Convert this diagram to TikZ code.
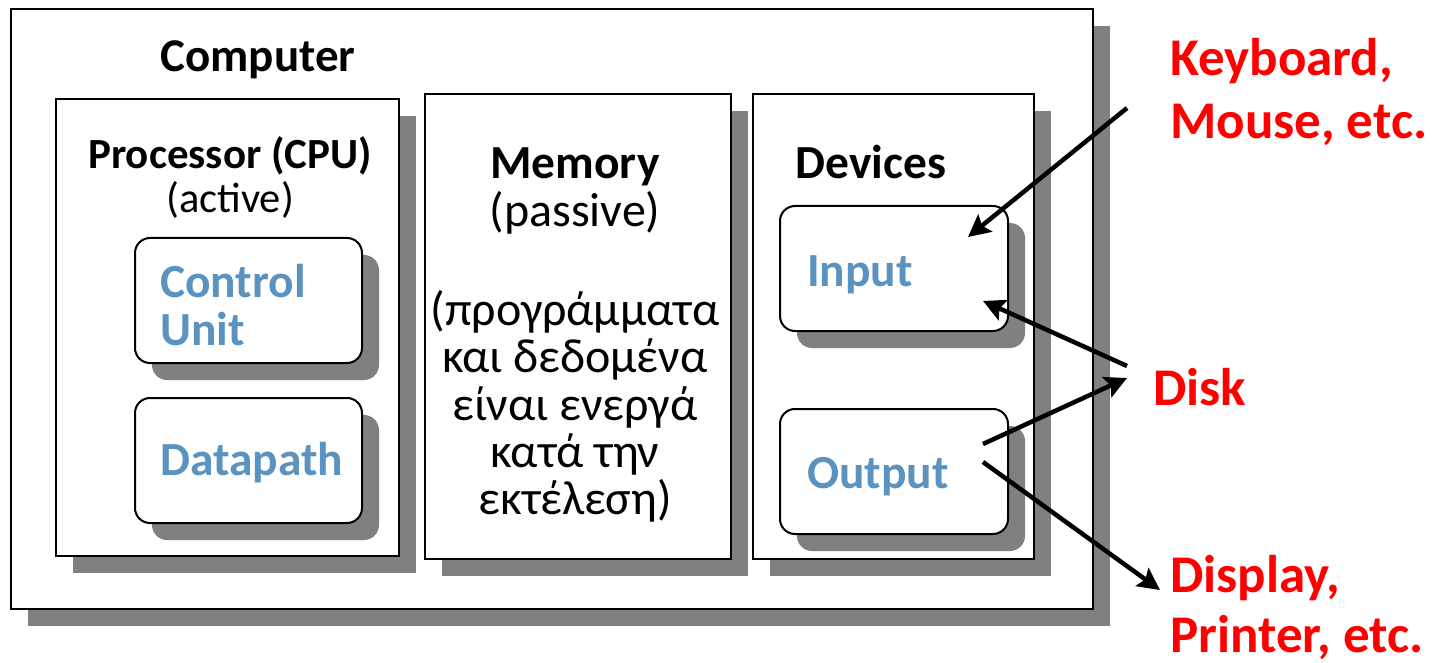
\documentclass[tikz,border=0pt]{standalone}
\usepackage{fontspec}
\setmainfont{Carlito}
\usetikzlibrary{shadows,arrows.meta}
\definecolor{cblue}{HTML}{5A92C0}
\definecolor{cred}{HTML}{FF0000}
\definecolor{shade}{HTML}{808080}
\tikzset{
  sq/.style={draw=black, line width=2pt, fill=white, anchor=north west, inner sep=0pt,
    drop shadow={shadow xshift=17pt, shadow yshift=-17pt, fill=shade, opacity=1}},
  rnd/.style={sq, rounded corners=15pt},
  hd/.style={inner sep=0pt, anchor=base, font=\fontsize{47.5}{57}\selectfont\bfseries},
  body/.style={inner sep=0pt, anchor=base, font=\fontsize{48}{57}\selectfont},
  bluetxt/.style={inner sep=0pt, anchor=base west, text=cblue, font=\fontsize{47.5}{57}\selectfont\bfseries},
  redtxt/.style={inner sep=0pt, anchor=base west, text=cred, font=\fontsize{53}{64}\selectfont\bfseries},
  arr/.style={line width=4.5pt, -{Stealth[length=22pt,width=22pt,inset=4pt]}}
}
\begin{document}
\begin{tikzpicture}[x=1pt,y=-1pt]
\useasboundingbox (0,0) rectangle (1435,663);
% outer
\node[sq, minimum width=1082pt, minimum height=600pt] (comp) at (10,8) {};
\node[hd, font=\fontsize{47}{57}\selectfont\bfseries] (comptxt) at (258,72) {Computer};
% processor
\node[sq, minimum width=343pt, minimum height=457pt] (proc) at (55,98) {};
\node[hd, font=\fontsize{43}{50}\selectfont\bfseries] (proctxt) at (230,169) {Processor (CPU)};
\node[body, font=\fontsize{42.5}{50}\selectfont] (acttxt) at (230,213) {(active)};
\node[rnd, minimum width=227pt, minimum height=125pt] (cu) at (134,237) {};
\node[bluetxt] (cutxt) at (160,297) {Control};
\node[bluetxt] (cutxtb) at (160,345) {Unit};
\node[rnd, minimum width=227pt, minimum height=125pt] (dp) at (134,397) {};
\node[bluetxt] (dptxt) at (160,475) {Datapath};
% memory
\node[sq, minimum width=306pt, minimum height=465pt] (mem) at (424,93) {};
\node[hd] (memtxt) at (575,179) {Memory};
\node[body] (pastxt) at (575,227) {(passive)};
\node[body] (g1) at (575,325) {(προγράμματα};
\node[body] (g2) at (575,372) {και δεδομένα};
\node[body] (g3) at (575,420) {είναι ενεργά};
\node[body] (g4) at (575,467) {κατά την};
\node[body] (g5) at (575,514) {εκτέλεση)};
% devices
\node[sq, minimum width=281pt, minimum height=465pt] (dev) at (752,93) {};
\node[hd] (devtxt) at (871,179) {Devices};
\node[rnd, minimum width=228pt, minimum height=125pt] (inp) at (779,205) {};
\node[bluetxt] (inptxt) at (807,286) {Input};
\node[rnd, minimum width=228pt, minimum height=125pt] (outp) at (779,408) {};
\node[bluetxt] (outtxt) at (807,488) {Output};
% red labels
\node[redtxt] (kb) at (1170,76) {Keyboard,};
\node[redtxt] (kbb) at (1170,139) {Mouse, etc.};
\node[redtxt] (disk) at (1153,405) {Disk};
\node[redtxt] (disp) at (1170,592) {Display,};
\node[redtxt] (dispb) at (1170,652) {Printer, etc.};
% arrows
\coordinate (a1s) at (1127,108);
\coordinate (a1e) at (968,237);
\coordinate (a2s) at (1127,366);
\coordinate (a2e) at (983,301);
\coordinate (a3s) at (983,444);
\coordinate (a3e) at (1127,378);
\coordinate (a4s) at (983,462);
\coordinate (a4e) at (1160,590);
\draw[arr] (a1s) -- (a1e);
\draw[arr] (a2s) -- (a2e);
\draw[arr] (a3s) -- (a3e);
\draw[arr] (a4s) -- (a4e);
\end{tikzpicture}
\end{document}
